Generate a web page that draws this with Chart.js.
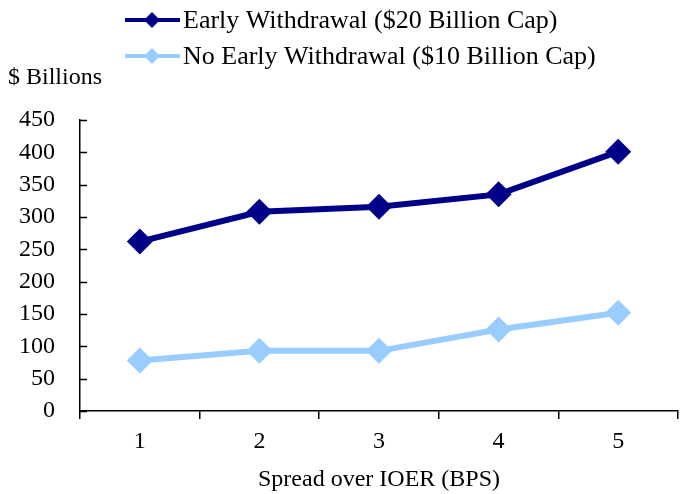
<!DOCTYPE html>
<html>
<head>
<meta charset="utf-8">
<script src="https://cdn.jsdelivr.net/npm/chart.js@4"></script>
<style>
  html, body { margin: 0; padding: 0; background: #ffffff; }
  #wrap { position: relative; width: 680px; height: 494px; }
</style>
</head>
<body>
<div id="wrap"><canvas id="chart"></canvas></div>
<script>
// values
const spreads = ['1', '2', '3', '4', '5'];
const earlyWithdrawal = [262, 308, 316, 335, 401];
const noEarlyWithdrawal = [78, 93, 93, 126, 152];
const seriesNames = ['Early Withdrawal ($20 Billion Cap)', 'No Early Withdrawal ($10 Billion Cap)'];
const seriesColors = ['#000088', '#99ccff'];
const yTicks = [0, 50, 100, 150, 200, 250, 300, 350, 400, 450];

const FONT = '"Liberation Serif", "Times New Roman", serif';

// legend (line + diamond), the "$ Billions" label and inward y ticks
const decorations = {
    id: 'decorations',
    afterDraw(chart) {
        const ctx = chart.ctx;
        const y = chart.scales.y;
        ctx.save();
        ctx.strokeStyle = '#000000';
        ctx.lineWidth = 1.5;
        yTicks.forEach(v => {
            const py = Math.round(y.getPixelForValue(v)) + 0.5;
            ctx.beginPath();
            ctx.moveTo(y.right, py);
            ctx.lineTo(y.right + 7, py);
            ctx.stroke();
        });

        ctx.font = '24px ' + FONT;
        ctx.fillStyle = '#000000';
        ctx.textBaseline = 'middle';
        ctx.textAlign = 'left';
        ctx.fillText('$ Billions', 8, 78);

        chart.data.datasets.forEach((ds, i) => {
            const ly = 20 + i * 36;
            ctx.strokeStyle = ds.borderColor;
            ctx.lineWidth = 4;
            ctx.beginPath();
            ctx.moveTo(125, ly);
            ctx.lineTo(180, ly);
            ctx.stroke();
            ctx.fillStyle = ds.borderColor;
            ctx.beginPath();
            ctx.moveTo(152, ly - 8);
            ctx.lineTo(160, ly);
            ctx.lineTo(152, ly + 8);
            ctx.lineTo(144, ly);
            ctx.closePath();
            ctx.fill();
            ctx.fillStyle = '#000000';
            ctx.font = '26px ' + FONT;
            ctx.fillText(ds.label, 183, ly + 1);
        });
        ctx.restore();
    }
};

new Chart(document.getElementById('chart'), {
    type: 'line',
    data: {
        labels: spreads,
        datasets: [earlyWithdrawal, noEarlyWithdrawal].map((data, i) => ({
            label: seriesNames[i],
            data,
            borderColor: seriesColors[i],
            backgroundColor: seriesColors[i],
            borderWidth: 6,
            pointStyle: 'rectRot',
            pointRadius: 13,
            pointHoverRadius: 13,
            pointBorderWidth: 0,
            tension: 0,
            fill: false,
        })),
    },
    options: {
        responsive: true,
        maintainAspectRatio: false,
        animation: false,
        layout: { autoPadding: false, padding: { top: 120, right: 2, left: 0, bottom: 0 } },
        plugins: {
            legend: { display: false },
            tooltip: { enabled: false },
        },
        scales: {
            x: {
                offset: true,
                grid: { offset: true, drawOnChartArea: false, drawTicks: true, tickLength: 8, color: '#000000', lineWidth: 1.5 },
                border: { display: true, color: '#000000', width: 1.5 },
                ticks: { color: '#000000', font: { family: FONT, size: 24 }, padding: 8 },
                title: {
                    display: true,
                    text: 'Spread over IOER (BPS)',
                    color: '#000000',
                    font: { family: FONT, size: 24 },
                    padding: { top: 0, bottom: 0 },
                },
                afterFit(scale) { scale.height = 83; },
            },
            y: {
                min: 0,
                max: 450,
                afterBuildTicks(scale) { scale.ticks = yTicks.map(v => ({ value: v })); },
                grid: { display: false, drawTicks: false },
                border: { display: true, color: '#000000', width: 1.5 },
                ticks: { color: '#000000', font: { family: FONT, size: 24 }, padding: 25 },
                afterFit(scale) { scale.width = 80; },
            },
        },
    },
    plugins: [decorations],
});
</script>
</body>
</html>
